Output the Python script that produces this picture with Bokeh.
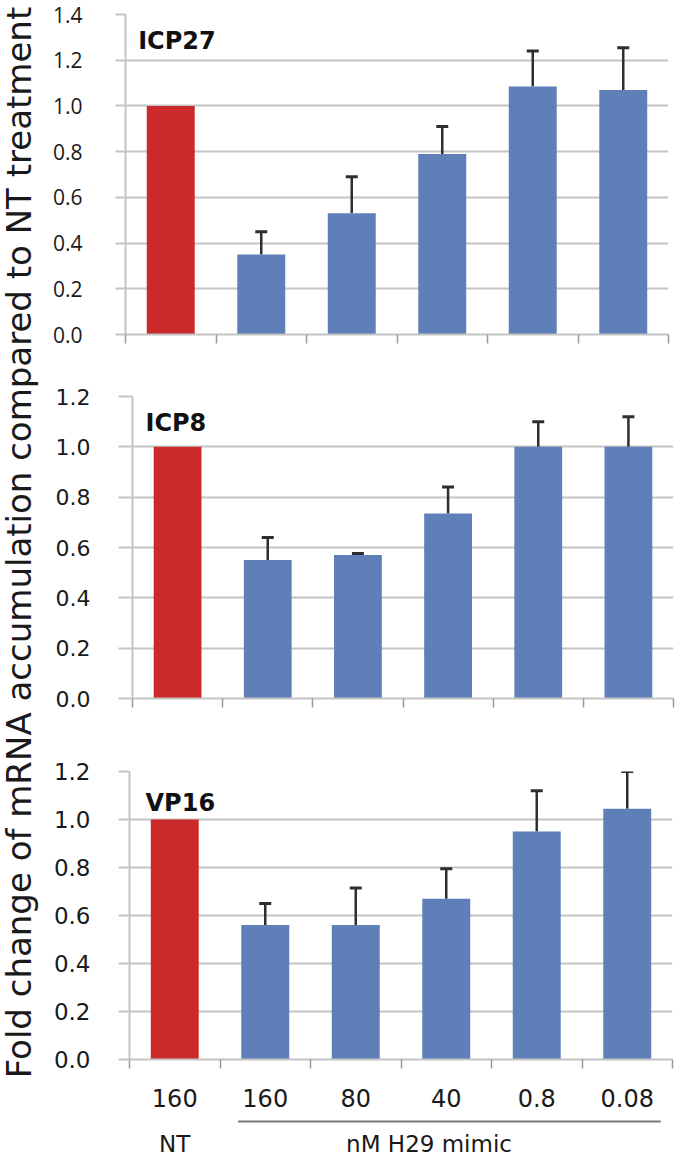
import math
from bokeh.plotting import figure
from bokeh.models import (Range1d, FixedTicker, Whisker, ColumnDataSource,
                          TeeHead, Label, PrintfTickFormatter)
from bokeh.layouts import row, column
from bokeh.embed import file_html
from bokeh.resources import INLINE
from bokeh.core.properties import value

# ---------------- data ----------------
dose_labels = ["160", "160", "80", "40", "0.8", "0.08"]
group_labels = ["NT", "nM  H29 mimic"]
genes = ["ICP27", "ICP8", "VP16"]
icp27_mean = [1.00, 0.35, 0.53, 0.79, 1.085, 1.07]
icp27_err = [0.00, 0.10, 0.16, 0.12, 0.155, 0.185]
icp8_mean = [1.00, 0.55, 0.57, 0.735, 1.00, 1.00]
icp8_err = [0.00, 0.09, 0.006, 0.105, 0.10, 0.12]
vp16_mean = [1.00, 0.56, 0.56, 0.67, 0.95, 1.045]
vp16_err = [0.00, 0.09, 0.155, 0.125, 0.17, 0.155]
y_max = [1.4, 1.2, 1.2]
y_title = "Fold change of mRNA accumulation compared to NT treatment"

# ---------------- style ----------------
RED = "#CC2A2A"
BLUE = "#5F7FB8"
GRID = "#c4c4c4"
AXIS = "#c4c4c4"
TICK = "#9a9a9a"
ERR = "#2e2e2e"
TEXT = "#1a1a1a"
TITLE_W = 44
PANEL_W = 676 - TITLE_W

n = len(dose_labels)
centers = [i + 0.5 for i in range(n)]
edges = [float(i) for i in range(n + 1)]
colors = [RED] + [BLUE] * (n - 1)

means = [icp27_mean, icp8_mean, vp16_mean]
errs = [icp27_err, icp8_err, vp16_err]

specs = [
    dict(height=360, top=14, bottom=26, left=125 - TITLE_W, right=8, font="Open Sans",
         size="21px", standoff=33, tick_out=10, lab=(0.14, 1.284)),
    dict(height=400, top=36, bottom=62, left=132 - TITLE_W, right=3, font="DejaVu Sans",
         size="22px", standoff=28, tick_out=14, lab=(0.144, 1.096)),
    dict(height=359, top=11, bottom=60, left=129 - TITLE_W, right=4, font="DejaVu Sans",
         size="23px", standoff=28, tick_out=11, lab=(0.177, 1.07)),
]

panels = []
for k in range(3):
    s = specs[k]
    p = figure(width=PANEL_W, height=s["height"], output_backend="svg",
               toolbar_location=None, x_range=Range1d(0, n),
               y_range=Range1d(0, y_max[k]),
               min_border_left=s["left"], min_border_right=s["right"],
               min_border_top=s["top"], min_border_bottom=s["bottom"])
    p.outline_line_color = None
    p.background_fill_color = "white"
    p.border_fill_color = "white"

    src = ColumnDataSource(dict(x=centers, top=means[k], color=colors))
    p.vbar(x="x", top="top", width=0.53, bottom=0, fill_color="color",
           line_color=None, source=src)

    ex = [centers[i] for i in range(n) if errs[k][i] > 0]
    lo = [means[k][i] for i in range(n) if errs[k][i] > 0]
    hi = [means[k][i] + errs[k][i] for i in range(n) if errs[k][i] > 0]
    esrc = ColumnDataSource(dict(x=ex, lower=lo, upper=hi))
    w = Whisker(source=esrc, base="x", lower="lower", upper="upper",
                line_color=ERR, line_width=2.5, lower_head=None,
                upper_head=TeeHead(size=12, line_color=ERR, line_width=3))
    p.add_layout(w)

    # y axis
    ticks = [round(0.2 * i, 1) for i in range(int(round(y_max[k] / 0.2)) + 1)]
    p.yaxis.ticker = FixedTicker(ticks=ticks)
    p.yaxis.formatter = PrintfTickFormatter(format="%.1f")
    p.yaxis.axis_line_color = AXIS
    p.yaxis.axis_line_width = 2
    p.yaxis.major_tick_line_color = GRID
    p.yaxis.major_tick_line_width = 2
    p.yaxis.major_tick_out = s["tick_out"]
    p.yaxis.major_tick_in = 0
    p.yaxis.minor_tick_line_color = None
    p.yaxis.major_label_standoff = s["standoff"]
    p.yaxis.major_label_text_font = s["font"]
    p.yaxis.major_label_text_font_size = s["size"]
    p.yaxis.major_label_text_color = TEXT
    p.ygrid.grid_line_color = GRID
    p.ygrid.grid_line_width = 2
    p.xgrid.grid_line_color = None

    # x axis: minor ticks at category edges, labels at centres
    xa = p.xaxis[0]
    xa.axis_line_color = AXIS
    xa.axis_line_width = 2
    xa.major_tick_line_color = None
    xa.major_tick_out = 0
    xa.major_tick_in = 0
    xa.minor_tick_line_color = TICK
    xa.minor_tick_line_width = 1.5
    xa.minor_tick_out = 9
    xa.minor_tick_in = 0
    if k < 2:
        xa.ticker = FixedTicker(ticks=[], minor_ticks=edges)
        xa.major_label_text_font_size = "0px"
        xa.major_label_standoff = 0
    else:
        xa.ticker = FixedTicker(ticks=centers, minor_ticks=edges)
        xa.major_label_overrides = {c: t for c, t in zip(centers, dose_labels)}
        xa.major_label_text_font = "DejaVu Sans"
        xa.major_label_text_font_size = "24px"
        xa.major_label_text_color = TEXT
        xa.major_label_standoff = 20

    lab = Label(x=s["lab"][0], y=s["lab"][1], text=genes[k],
                text_font="DejaVu Sans", text_font_style="bold",
                text_font_size="24px", text_color="#111111",
                text_baseline="alphabetic", text_line_height=1.0)
    p.add_layout(lab)
    panels.append(p)

# group labels row (NT / nM H29 mimic) with bracket line, sharing the x scale
GROUP_H = 38
group_pos = [0.5, 3.35]
bracket = (1.2, 5.87)
pg = figure(width=PANEL_W, height=GROUP_H, output_backend="svg", toolbar_location=None,
            x_range=panels[2].x_range, y_range=Range1d(0, GROUP_H),
            x_axis_type=None, y_axis_type=None,
            min_border_left=specs[2]["left"], min_border_right=specs[2]["right"],
            min_border_top=0, min_border_bottom=0)
pg.outline_line_color = None
pg.segment(x0=[bracket[0]], x1=[bracket[1]], y0=[GROUP_H - 2], y1=[GROUP_H - 2],
           line_color="#7a7a7a", line_width=2)
pg.text(x=group_pos, y=[13.5, 13.5], text=group_labels, text_align="center",
        text_baseline="alphabetic", text_line_height=1.0,
        text_font=value("DejaVu Sans"), text_font_size="23px", text_color=TEXT)

total_h = sum(sp["height"] for sp in specs) + GROUP_H
tf = figure(width=TITLE_W, height=total_h, output_backend="svg", toolbar_location=None,
            x_range=Range1d(0, TITLE_W), y_range=Range1d(0, total_h),
            x_axis_type=None, y_axis_type=None, min_border=0)
tf.outline_line_color = None
tf.text(x=[18], y=[total_h - 542], text=[y_title], angle=math.pi / 2,
        text_align="center", text_baseline="alphabetic", text_line_height=1.0,
        text_font=value("DejaVu Sans"), text_font_size="34px", text_color=TEXT)

stack = column(row(panels[0]), row(panels[1]), row(panels[2]), row(pg))
layout = row(tf, stack)
open("out.html", "w").write(file_html(layout, INLINE))
